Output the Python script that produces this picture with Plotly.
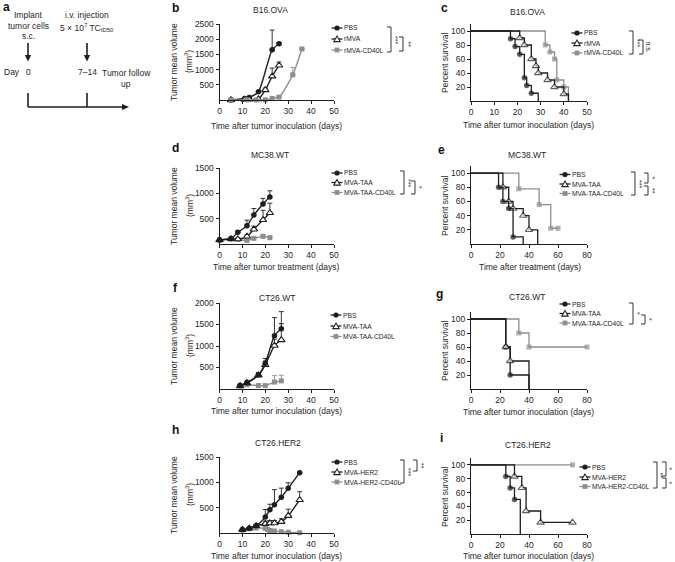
import plotly.graph_objects as go

W, H = 675, 562
BLACK = '#1e1e1e'
GRAY = '#8e8e8e'
TXT = '#262626'
FONT = 'Liberation Sans, Arial, Helvetica, sans-serif'

# ---------------- data ----------------
# b: B16.OVA tumor growth
b_pbs_d = [5, 11, 13, 17, 23, 26]
b_pbs_v = [0, 50, 85, 270, 1650, 1850]
b_pbs_e = [0, 10, 15, 40, 650, 40]
b_mva_d = [5, 11, 13, 17, 20, 23, 26]
b_mva_v = [0, 15, 20, 30, 330, 780, 1140]
b_mva_e = [0, 0, 0, 10, 60, 270, 110]
b_cd_d = [5, 12, 16, 20, 23, 26, 32, 36]
b_cd_v = [5, 5, 5, 5, 50, 95, 830, 1680]
b_cd_e = [0, 0, 0, 0, 10, 20, 240, 0]

# c: B16.OVA survival
c_pbs_t = [0, 17, 19, 21, 23, 24, 26, 29]
c_pbs_p = [100, 88.9, 77.8, 66.7, 33.3, 22.2, 11.1, 0]
c_mva_t = [0, 21, 23, 26, 28, 29, 33, 36, 40, 42]
c_mva_p = [100, 90, 80, 60, 50, 40, 30, 20, 10, 0]
c_cd_t = [0, 32, 34, 36, 37, 40, 42]
c_cd_p = [100, 80, 70, 60, 30, 20, 0]

# d: MC38.WT tumor growth
d_days = [0, 5, 8, 12, 15, 19, 22]
d_pbs_v = [80, 105, 230, 360, 570, 790, 930]
d_pbs_e = [10, 15, 30, 110, 130, 110, 120]
d_taa_v = [80, 100, 95, 150, 290, 475, 615]
d_taa_e = [10, 10, 15, 30, 60, 190, 190]
d_cd_v = [80, 100, 90, 70, 110, 150, 125]
d_cd_e = [10, 10, 15, 20, 25, 40, 30]

# e: MC38.WT survival
e_pbs_t = [0, 19, 22, 26, 29, 36]
e_pbs_p = [100, 80, 60, 50, 10, 0]
e_taa_t = [0, 22, 26, 29, 36, 40, 46]
e_taa_p = [100, 80, 60, 50, 40, 20, 0]
e_cd_t = [0, 33, 47, 55, 60]
e_cd_p = [100, 77.8, 55.6, 22.2, 22.2]

# f: CT26.WT tumor growth
f_days = [9, 12, 17, 20, 24, 27]
f_pbs_v = [80, 150, 330, 600, 1240, 1400]
f_pbs_e = [15, 30, 50, 110, 420, 400]
f_taa_v = [70, 140, 320, 560, 1010, 1140]
f_taa_e = [15, 25, 50, 90, 150, 380]
f_cd_v = [80, 100, 80, 80, 160, 190]
f_cd_e = [10, 15, 10, 15, 150, 130]

# g: CT26.WT survival
g_pbs_t = [0, 24, 27, 40]
g_pbs_p = [100, 60, 20, 0]
g_taa_t = [0, 24, 27, 40]
g_taa_p = [100, 60, 40, 0]
g_cd_t = [0, 33, 40, 80]
g_cd_p = [100, 80, 60, 60]

# h: CT26.HER2 tumor growth
h_days = [10, 13, 16, 20, 22, 24, 27, 30, 35]
h_pbs_v = [65, 92, 144, 314, 458, 556, 706, 882, 1190]
h_pbs_e = [10, 15, 25, 150, 110, 300, 180, 110, 0]
h_her_v = [65, 92, 140, 183, 196, 196, 222, 340, 654]
h_her_e = [10, 15, 20, 50, 50, 50, 60, 130, 160]
h_cd_d = [10, 13, 16, 20, 21, 22, 24, 27, 30, 35]
h_cd_v = [65, 85, 98, 90, 70, 50, 40, 25, 15, 5]
h_cd_e = [10, 10, 15, 40, 20, 15, 10, 10, 5, 0]

# i: CT26.HER2 survival
i_pbs_t = [0, 24, 27, 30, 34]
i_pbs_p = [100, 83.3, 66.7, 50, 0]
i_her_t = [0, 30, 35, 38, 48, 70]
i_her_p = [100, 83.3, 66.7, 33.3, 16.7, 16.7]
i_cd_t = [0, 70]
i_cd_p = [100, 100]

# ---------------- layout helpers ----------------
def fx(x):
    return x / W

def fy(y):
    return 1 - y / H

fig = go.Figure()
shapes = []
annots = []

def add_text(x, y, text, size=8.5, xanchor='center', yanchor='middle', angle=0, bold=False, color=TXT):
    if bold:
        text = '<b>' + text + '</b>'
    annots.append(dict(x=fx(x), y=fy(y), xref='paper', yref='paper', text=text, showarrow=False,
                       xanchor=xanchor, yanchor=yanchor, textangle=angle,
                       font=dict(family=FONT, size=size, color=color)))

def poly(points, fill=BLACK, line_col=BLACK, lw=0, close=True):
    d = 'M ' + ' L '.join('{:.5f},{:.5f}'.format(fx(a), fy(b)) for a, b in points)
    if close:
        d += ' Z'
    shapes.append(dict(type='path', xref='paper', yref='paper', path=d,
                       fillcolor=fill if close else None,
                       line=dict(color=line_col, width=lw)))

# axis boxes: (x_left, x_right, y_top, y_bottom) in px
axes_spec = [
    ('b', (219.5, 334, 24, 100), [0, 50], [0, 2500], [0, 10, 20, 30, 40, 50], [500, 1000, 1500, 2000, 2500]),
    ('c', (471, 587, 24, 101), [0, 50], [0, 110], [0, 10, 20, 30, 40, 50], [20, 40, 60, 80, 100]),
    ('d', (219.5, 334, 168, 244), [0, 50], [0, 1500], [0, 10, 20, 30, 40, 50], [500, 1000, 1500]),
    ('e', (471, 587, 166, 244), [0, 80], [0, 110], [0, 20, 40, 60, 80], [20, 40, 60, 80, 100]),
    ('f', (219.5, 334, 303, 389), [0, 50], [0, 2000], [0, 10, 20, 30, 40, 50], [500, 1000, 1500, 2000]),
    ('g', (471, 587, 312, 389), [0, 80], [0, 110], [0, 20, 40, 60, 80], [20, 40, 60, 80, 100]),
    ('h', (219.5, 334, 457, 533), [0, 50], [0, 1500], [0, 10, 20, 30, 40, 50], [500, 1000, 1500]),
    ('i', (471, 587, 458, 534), [0, 80], [0, 110], [0, 20, 40, 60, 80], [20, 40, 60, 80, 100]),
]
axref = {}
layout_axes = {}
for k, (name, box, xr, yr, xt, yt) in enumerate(axes_spec, start=1):
    sfx = '' if k == 1 else str(k)
    axref[name] = ('x' + sfx, 'y' + sfx)
    x0, x1, yt_px, yb_px = box
    common = dict(showgrid=False, zeroline=False, showline=True, linecolor=BLACK, linewidth=1,
                  ticks='outside', ticklen=3, tickwidth=1, tickcolor=BLACK,
                  tickfont=dict(family=FONT, size=8.5, color=TXT), fixedrange=True)
    layout_axes['xaxis' + sfx] = dict(domain=[fx(x0), fx(x1)], range=xr, tickvals=xt,
                                      anchor='y' + sfx, **common)
    layout_axes['yaxis' + sfx] = dict(domain=[fy(yb_px), fy(yt_px)], range=yr, tickvals=yt,
                                      anchor='x' + sfx, **common)

STY = {
    'circle': dict(symbol='circle', size=5.5, color=BLACK, line=dict(width=0)),
    'tri': dict(symbol='triangle-up', size=6.5, color='white', line=dict(width=1.1, color=BLACK)),
    'square': dict(symbol='square', size=5, color=GRAY, line=dict(width=0)),
}
LCOL = {'circle': BLACK, 'tri': BLACK, 'square': GRAY}

def tumor(panel, days, vals, err, sty):
    xa, ya = axref[panel]
    col = LCOL[sty]
    fig.add_trace(go.Scatter(
        x=days, y=vals, xaxis=xa, yaxis=ya, mode='lines+markers', showlegend=False,
        line=dict(color=col, width=1.4, shape='spline', smoothing=0.6),
        marker=STY[sty], cliponaxis=False,
        error_y=dict(type='data', symmetric=False, array=err, arrayminus=[0] * len(err),
                     color=col, thickness=0.9, width=2.5)))

def surv(panel, t, p, sty):
    xa, ya = axref[panel]
    col = LCOL[sty]
    m = dict(STY[sty])
    m['size'] = [0 if (ti == 0 or pi == 0) else STY[sty]['size'] for ti, pi in zip(t, p)]
    fig.add_trace(go.Scatter(
        x=t, y=p, xaxis=xa, yaxis=ya, mode='lines+markers', showlegend=False,
        line=dict(color=col, width=1.3, shape='hv'), marker=m, cliponaxis=False))

# ---- series ----
tumor('b', b_pbs_d, b_pbs_v, b_pbs_e, 'circle')
tumor('b', b_mva_d, b_mva_v, b_mva_e, 'tri')
tumor('b', b_cd_d, b_cd_v, b_cd_e, 'square')
surv('c', c_cd_t, c_cd_p, 'square')
surv('c', c_mva_t, c_mva_p, 'tri')
surv('c', c_pbs_t, c_pbs_p, 'circle')
tumor('d', d_days, d_cd_v, d_cd_e, 'square')
tumor('d', d_days, d_taa_v, d_taa_e, 'tri')
tumor('d', d_days, d_pbs_v, d_pbs_e, 'circle')
surv('e', e_cd_t, e_cd_p, 'square')
surv('e', e_taa_t, e_taa_p, 'tri')
surv('e', e_pbs_t, e_pbs_p, 'circle')
tumor('f', f_days, f_cd_v, f_cd_e, 'square')
tumor('f', f_days, f_taa_v, f_taa_e, 'tri')
tumor('f', f_days, f_pbs_v, f_pbs_e, 'circle')
surv('g', g_cd_t, g_cd_p, 'square')
surv('g', g_pbs_t, g_pbs_p, 'circle')
surv('g', g_taa_t, g_taa_p, 'tri')
tumor('h', h_cd_d, h_cd_v, h_cd_e, 'square')
tumor('h', h_days, h_her_v, h_her_e, 'tri')
tumor('h', h_days, h_pbs_v, h_pbs_e, 'circle')
surv('i', i_cd_t, i_cd_p, 'square')
surv('i', i_her_t, i_her_p, 'tri')
surv('i', i_pbs_t, i_pbs_p, 'circle')

# ---- legends (drawn as decorations) ----
def legend(xm, ys, names, styles):
    for y, nm, st in zip(ys, names, styles):
        col = LCOL[st]
        shapes.append(dict(type='line', xref='paper', yref='paper', x0=fx(xm - 5.5), x1=fx(xm + 5.5),
                           y0=fy(y), y1=fy(y), line=dict(color=col, width=1.3)))
        if st == 'circle':
            shapes.append(dict(type='circle', xref='paper', yref='paper', x0=fx(xm - 2.6), x1=fx(xm + 2.6),
                               y0=fy(y - 2.6), y1=fy(y + 2.6), fillcolor=BLACK, line=dict(width=0)))
        elif st == 'square':
            shapes.append(dict(type='rect', xref='paper', yref='paper', x0=fx(xm - 2.4), x1=fx(xm + 2.4),
                               y0=fy(y - 2.4), y1=fy(y + 2.4), fillcolor=GRAY, line=dict(width=0)))
        else:
            poly([(xm - 3.2, y + 2.6), (xm + 3.2, y + 2.6), (xm, y - 3.0)], fill='white', lw=1.1)
        add_text(xm + 5, y, nm, size=6.7, xanchor='left')

def bracket(x, y0, y1, label, lx_off=4.5, size=7):
    poly([(x - 4, y0), (x, y0), (x, y1), (x - 4, y1)], close=False, lw=0.9)
    add_text(x + lx_off, (y0 + y1) / 2, label, size=size, angle=90)

three = ['circle', 'tri', 'square']
legend(337, [28, 39, 50], ['PBS', 'rMVA', 'rMVA-CD40L'], three)
bracket(391, 27, 52, '***')
bracket(403, 37, 51, '**')
legend(577, [33, 43, 53], ['PBS', 'rMVA', 'rMVA-CD40L'], three)
bracket(633, 31, 54, '***')
bracket(643, 40, 54, 'n.s.', lx_off=5.5)
legend(337, [173, 182.5, 192.5], ['PBS', 'MVA-TAA', 'MVA-TAA-CD40L'], three)
bracket(404, 171, 194, '***')
bracket(415, 181, 194, '*')
legend(565, [174.5, 184, 193.5], ['PBS', 'MVA-TAA', 'MVA-TAA-CD40L'], three)
bracket(635, 172, 195, '***')
bracket(648, 173, 183, '*')
bracket(648, 186, 195, '**')
legend(336, [315, 326, 336.5], ['PBS', 'MVA-TAA', 'MVA-TAA-CD40L'], three)
legend(565, [304, 313.5, 323], ['PBS', 'MVA-TAA', 'MVA-TAA-CD40L'], three)
bracket(633, 303, 324, '*')
bracket(645, 315, 324, '*')
legend(337, [462, 472, 482], ['PBS', 'MVA-HER2', 'MVA-HER2-CD40L'], three)
bracket(404, 460, 483, '***')
bracket(417, 460, 471, '**')
legend(585, [467, 477, 486.5], ['PBS', 'MVA-HER2', 'MVA-HER2-CD40L'], three)
bracket(657, 462, 488, '**', lx_off=3.5)
bracket(666, 462, 476, '*', lx_off=3.5)
bracket(666, 478, 488, '*', lx_off=3.5)

# ---- titles / axis titles / panel letters ----
for x, y, t in [(270, 10, 'B16.OVA'), (527, 12, 'B16.OVA'), (270, 155, 'MC38.WT'), (527, 155, 'MC38.WT'),
                (277, 298, 'CT26.WT'), (527, 297, 'CT26.WT'), (278, 443, 'CT26.HER2'), (528, 445, 'CT26.HER2')]:
    add_text(x, y, t, size=8.5)

for x, y, t in [(276, 126, 'Time after tumor inoculation (days)'), (528, 125, 'Time after tumor inoculation (days)'),
                (276, 267, 'Time after tumor treatment (days)'), (530, 267, 'Time after treatment (days)'),
                (276, 411, 'Time after tumor inoculation (days)'), (528, 412, 'Time after tumor inoculation (days)'),
                (276, 556, 'Time after tumor inoculation (days)'), (528, 556, 'Time after tumor inoculation (days)')]:
    add_text(x, y, t, size=8.5)

for yc in [62, 206, 346, 495]:
    add_text(174, yc, 'Tumor mean volume', size=8.5, angle=-90)
    add_text(189, yc, '(mm<sup>3</sup>)', size=8.5, angle=-90)
for yc in [62, 205, 350, 496]:
    add_text(445, yc, 'Percent survival', size=8.5, angle=-90)

for x, y, t in [(6, 7, 'a'), (176, 8, 'b'), (444, 8, 'c'), (176, 148, 'd'), (441, 150, 'e'),
                (176, 288, 'f'), (439, 294, 'g'), (176, 430, 'h'), (441, 438, 'i')]:
    add_text(x, y, t, size=12, bold=True, color='#111111')

# ---- panel a schematic ----
add_text(28, 15, 'Implant', size=8.5)
add_text(28, 25.5, 'tumor cells', size=8.5)
add_text(28, 36, 's.c.', size=8.5)
add_text(87, 15, 'i.v. injection', size=8.5)
add_text(87, 27, '5 × 10<sup>7</sup> TC<sub>ID50</sub>', size=8.5)
add_text(2, 72, 'Day', size=8.5, xanchor='left')
add_text(28, 72, '0', size=8.5)
add_text(87, 72, '7–14', size=8.5)
add_text(126, 73, 'Tumor follow', size=8.5)
add_text(126, 84, 'up', size=8.5)
for xa in [28, 87]:
    shapes.append(dict(type='line', xref='paper', yref='paper', x0=fx(xa), x1=fx(xa), y0=fy(43), y1=fy(56),
                       line=dict(color=BLACK, width=1.6)))
    poly([(xa - 3.2, 55), (xa + 3.2, 55), (xa, 61.5)])
    shapes.append(dict(type='line', xref='paper', yref='paper', x0=fx(xa), x1=fx(xa), y0=fy(93), y1=fy(107),
                       line=dict(color=BLACK, width=1.6)))
shapes.append(dict(type='line', xref='paper', yref='paper', x0=fx(28), x1=fx(123), y0=fy(107), y1=fy(107),
                   line=dict(color=BLACK, width=1.6)))
poly([(122, 104), (122, 110), (129, 107)])

fig.update_layout(
    width=W, height=H, margin=dict(l=0, r=0, t=0, b=0, autoexpand=False),
    paper_bgcolor='white', plot_bgcolor='white', showlegend=False,
    font=dict(family=FONT, color=TXT),
    shapes=shapes, annotations=annots, **layout_axes)

fig.write_html('out.html', config={'displayModeBar': False},
               post_script="document.body.style.margin='0px';document.body.style.padding='0px';")
